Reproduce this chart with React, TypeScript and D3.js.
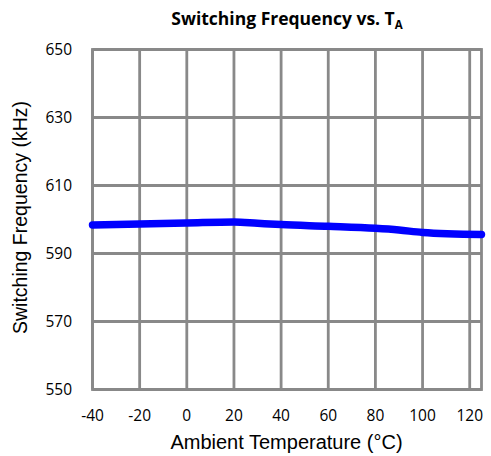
import React from "react";
import * as d3 from "d3";

const temps = [-40, -20, 0, 20, 30, 40, 60, 80, 90, 100, 125];
const freq = [598.4, 598.7, 599.0, 599.3, 598.9, 598.5, 598.0, 597.4, 596.9, 596.2, 595.6];
const xTicks = [-40, -20, 0, 20, 40, 60, 80, 100, 120];
const yTicks = [550, 570, 590, 610, 630, 650];

const W = 491;
const H = 456;
const left = 92.5;
const right = 481.5;
const top = 49.5;
const bottom = 389.5;

export default function App() {
  const x = d3.scaleLinear().domain([-40, 125]).range([left, right]);
  const y = d3.scaleLinear().domain([550, 650]).range([bottom, top]);
  const pts = temps.map((t, i) => [t, freq[i]] as [number, number]);
  const line = d3
    .line<[number, number]>()
    .x((d) => x(d[0]))
    .y((d) => y(d[1]))
    .curve(d3.curveMonotoneX);
  const grid = "#898989";
  const tickFont = "'Open Sans', sans-serif";
  const axisFont = "'Liberation Sans', Arial, sans-serif";
  return (
    <svg
      width={W}
      height={H}
      style={{ position: "absolute", left: 0, top: 0, background: "#fff" }}
    >
      <rect x={0} y={0} width={W} height={H} fill="#fff" />
      <text
        x={287}
        y={25}
        textAnchor="middle"
        fontFamily={tickFont}
        fontWeight="bold"
        fontSize={17.5}
        fill="#000"
      >
        Switching Frequency vs. T
        <tspan fontSize={11.5} dy={3.5}>A</tspan>
      </text>
      {xTicks.map((t) => (
        <line key={"gx" + t} x1={x(t)} x2={x(t)} y1={top} y2={bottom} stroke={grid} strokeWidth={2.8} />
      ))}
      {yTicks.map((t) => (
        <line key={"gy" + t} x1={left} x2={right} y1={y(t)} y2={y(t)} stroke={grid} strokeWidth={2.8} />
      ))}
      <rect x={left} y={top} width={right - left} height={bottom - top} fill="none" stroke={grid} strokeWidth={2.8} />
      <path d={line(pts) || ""} fill="none" stroke="#0000ff" strokeWidth={7.5} strokeLinecap="round" strokeLinejoin="round" />
      {yTicks.map((t) => (
        <text key={"ty" + t} x={72} y={y(t) + 5} textAnchor="end" fontFamily={tickFont} fontSize={15.5} fill="#000">
          {t}
        </text>
      ))}
      {xTicks.map((t) => (
        <text key={"tx" + t} x={x(t)} y={421} textAnchor="middle" fontFamily={tickFont} fontSize={15.5} fill="#000">
          {t}
        </text>
      ))}
      <text x={286.5} y={449} textAnchor="middle" fontFamily={axisFont} fontSize={20} fill="#000">
        Ambient Temperature (°C)
      </text>
      <text
        transform={`translate(27, ${217.5}) rotate(-90)`}
        textAnchor="middle"
        fontFamily={axisFont}
        fontSize={19.5}
        fill="#000"
      >
        Switching Frequency (kHz)
      </text>
    </svg>
  );
}
